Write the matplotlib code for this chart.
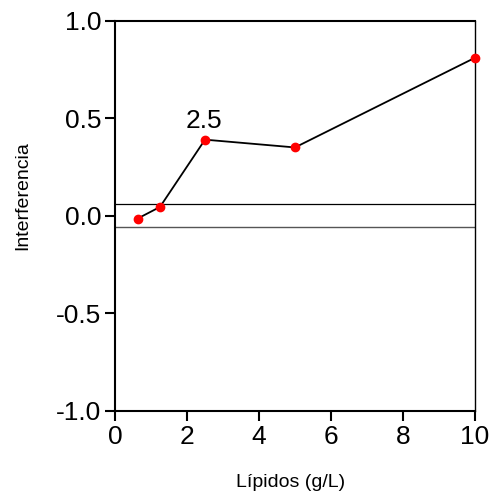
import matplotlib
matplotlib.use("Agg")
import matplotlib.pyplot as plt

lipidos = [0.625, 1.25, 2.5, 5.0, 10.0]
interferencia = [-0.015, 0.045, 0.39, 0.35, 0.81]
limite_sup = 0.06
limite_inf = -0.06
etiqueta = "2.5"
xticks = [0, 2, 4, 6, 8, 10]
yticks = [-1.0, -0.5, 0.0, 0.5, 1.0]

plt.rcParams['font.family'] = ['Liberation Sans', 'DejaVu Sans']

fig = plt.figure(figsize=(4.97, 5.0), dpi=100)
ax = fig.add_axes([115/497, 1 - 410.7/500, 360/497, 390/500])

ax.axhline(limite_sup, color='black', lw=0.9)
ax.axhline(limite_inf, color='#555555', lw=1.0)
ax.plot(lipidos, interferencia, color='black', lw=1.3, zorder=3)
ax.plot(lipidos, interferencia, 'o', color='#ff0000', ms=6, zorder=4, clip_on=False)
ax.annotate(etiqueta, (lipidos[2], interferencia[2]), xytext=(-1, 8.5), textcoords='offset points',
            ha='center', va='baseline', fontsize=19)

ax.set_xlim(0, 10)
ax.set_ylim(-1, 1)
ax.set_xticks(xticks)
ax.set_yticks(yticks)
ax.set_xticklabels([str(t) for t in xticks])
ax.set_yticklabels([f"{t:.1f}" for t in yticks])
ax.tick_params(direction='out', length=7, width=1.5, labelsize=19, pad=3)
for s in ax.spines.values():
    s.set_linewidth(1.5)
ax.spines['right'].set_linewidth(1.0)

ax.set_xlabel("Lípidos (g/L)", fontsize=14)
ax.set_ylabel("Interferencia", fontsize=14)
ax.xaxis.set_label_coords(0.4875, -0.163)
ax.yaxis.set_label_coords(-0.232, 0.552)

fig.savefig("out.png", dpi=100)
